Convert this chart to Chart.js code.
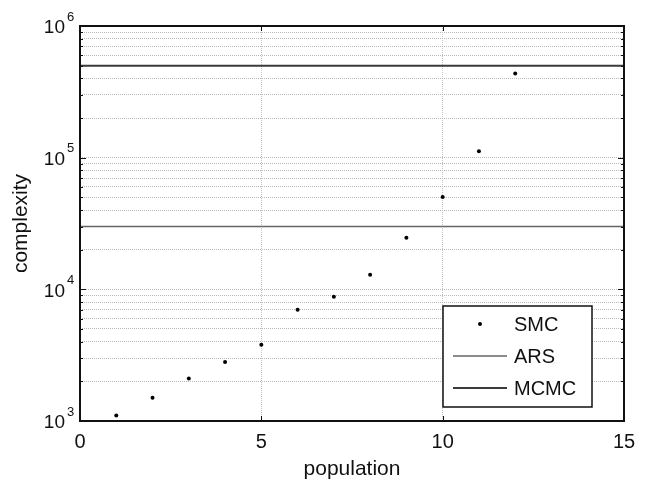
<!DOCTYPE html>
<html>
<head>
<meta charset="utf-8">
<script src="https://cdn.jsdelivr.net/npm/chart.js@4.4.0/dist/chart.umd.min.js"></script>
<style>
  html, body { margin: 0; padding: 0; background: #fff; }
  #cntr { width: 648px; height: 490px; }
</style>
</head>
<body>
<div id="cntr"><canvas id="myChart" width="648" height="490"></canvas></div>
<script>
// Datos
const population = [1, 2, 3, 4, 5, 6, 7, 8, 9, 10, 11, 12];
const smcComplexity = [1100, 1500, 2100, 2800, 3800, 7000, 8800, 12900, 24600, 50200, 112000, 436000];
const arsComplexity = 30000;
const mcmcComplexity = 500000;
const xRange = [0, 15];
const xTicks = [0, 5, 10, 15];
const yDecades = [3, 4, 5, 6];

const FONT = '"Liberation Sans", Arial, sans-serif';

// Rejilla logaritmica: 1..9 x 10^d
const yGrid = [];
yDecades.forEach((d, i) => {
  if (i === yDecades.length - 1) { yGrid.push(Math.pow(10, d)); return; }
  for (let m = 1; m <= 9; m++) yGrid.push(m * Math.pow(10, d));
});

/**
 * * Marco, marcas interiores, etiquetas 10^n y leyenda
 */
const decoraciones = {
  id: 'decoraciones',
  afterDraw(chart) {
    const ctx = chart.ctx;
    const area = chart.chartArea;
    const sx = chart.scales.x;
    const sy = chart.scales.y;
    ctx.save();
    ctx.setLineDash([]);

    // marcas interiores
    ctx.strokeStyle = '#111';
    ctx.lineWidth = 1;
    yGrid.forEach(v => {
      const py = Math.round(sy.getPixelForValue(v)) + 0.5;
      const len = Number.isInteger(Math.log10(v)) ? 6 : 3;
      ctx.beginPath();
      ctx.moveTo(area.left, py); ctx.lineTo(area.left + len, py);
      ctx.moveTo(area.right, py); ctx.lineTo(area.right - len, py);
      ctx.stroke();
    });
    xTicks.forEach(v => {
      const px = Math.round(sx.getPixelForValue(v)) + 0.5;
      ctx.beginPath();
      ctx.moveTo(px, area.bottom); ctx.lineTo(px, area.bottom - 5);
      ctx.moveTo(px, area.top); ctx.lineTo(px, area.top + 5);
      ctx.stroke();
    });

    // marco
    ctx.strokeStyle = '#111';
    ctx.lineWidth = 2;
    ctx.strokeRect(area.left, area.top, area.right - area.left, area.bottom - area.top);

    // etiquetas del eje y
    ctx.fillStyle = '#111';
    yDecades.forEach(d => {
      const py = sy.getPixelForValue(Math.pow(10, d));
      ctx.font = '19px ' + FONT;
      ctx.textAlign = 'right';
      ctx.textBaseline = 'middle';
      ctx.fillText('10', area.left - 15, py + 2);
      ctx.font = '13px ' + FONT;
      ctx.textAlign = 'left';
      ctx.fillText(String(d), area.left - 13, py - 9);
    });

    // leyenda
    const bw = 149, bh = 101;
    const bx = area.right - 32 - bw;
    const by = area.bottom - 14 - bh;
    ctx.fillStyle = '#fff';
    ctx.fillRect(bx, by, bw, bh);
    ctx.strokeStyle = '#111';
    ctx.lineWidth = 1.5;
    ctx.strokeRect(bx, by, bw, bh);
    chart.data.datasets.forEach((ds, i) => {
      const cy = by + 18 + i * 32;
      if (ds.showLine) {
        ctx.strokeStyle = ds.borderColor;
        ctx.lineWidth = ds.borderWidth;
        ctx.beginPath();
        ctx.moveTo(bx + 10, cy); ctx.lineTo(bx + 64, cy);
        ctx.stroke();
      } else {
        ctx.fillStyle = ds.backgroundColor;
        ctx.beginPath();
        ctx.arc(bx + 37, cy, ds.pointRadius, 0, Math.PI * 2);
        ctx.fill();
      }
      ctx.fillStyle = '#111';
      ctx.font = '20px ' + FONT;
      ctx.textAlign = 'left';
      ctx.textBaseline = 'middle';
      ctx.fillText(ds.label, bx + 71, cy + 1);
    });
    ctx.restore();
  }
};

const ctx = document.getElementById('myChart');
new Chart(ctx, {
  type: 'scatter',
  data: {
    datasets: [
      {
        label: 'SMC',
        data: population.map((p, i) => ({ x: p, y: smcComplexity[i] })),
        backgroundColor: '#000',
        borderWidth: 0,
        pointRadius: 2,
        showLine: false
      },
      {
        label: 'ARS',
        data: xRange.map(x => ({ x: x, y: arsComplexity })),
        borderColor: '#666666',
        borderWidth: 1.5,
        pointRadius: 0,
        showLine: true
      },
      {
        label: 'MCMC',
        data: xRange.map(x => ({ x: x, y: mcmcComplexity })),
        borderColor: '#3a3a3a',
        borderWidth: 2,
        pointRadius: 0,
        showLine: true
      }
    ]
  },
  options: {
    responsive: false,
    animation: false,
    devicePixelRatio: 1,
    layout: { padding: { top: 26, right: 24, left: 0, bottom: 0 } },
    plugins: {
      legend: { display: false },
      tooltip: { enabled: false }
    },
    scales: {
      x: {
        type: 'linear',
        min: xRange[0],
        max: xRange[1],
        afterBuildTicks: s => { s.ticks = xTicks.map(v => ({ value: v })); },
        afterFit: s => { s.height = 69; },
        ticks: {
          color: '#111',
          padding: 9,
          autoSkip: false,
          maxRotation: 0,
          font: { family: FONT, size: 20 }
        },
        grid: { color: '#c4c4c4', lineWidth: 1, drawTicks: false },
        border: { display: false, dash: [1, 1] },
        title: {
          display: true,
          text: 'population',
          color: '#111',
          font: { family: FONT, size: 21 },
          padding: { top: 0, bottom: 8 }
        }
      },
      y: {
        type: 'logarithmic',
        min: Math.pow(10, yDecades[0]),
        max: Math.pow(10, yDecades[yDecades.length - 1]),
        afterBuildTicks: s => { s.ticks = yGrid.map(v => ({ value: v })); },
        afterFit: s => { s.width = 80; },
        ticks: { display: false, autoSkip: false },
        grid: { color: '#b8b8b8', lineWidth: 1, drawTicks: false },
        border: { display: false, dash: [1, 1] },
        title: {
          display: true,
          text: 'complexity',
          color: '#111',
          font: { family: FONT, size: 21 },
          padding: { top: 9, bottom: 0 }
        }
      }
    }
  },
  plugins: [decoraciones]
});
</script>
</body>
</html>
